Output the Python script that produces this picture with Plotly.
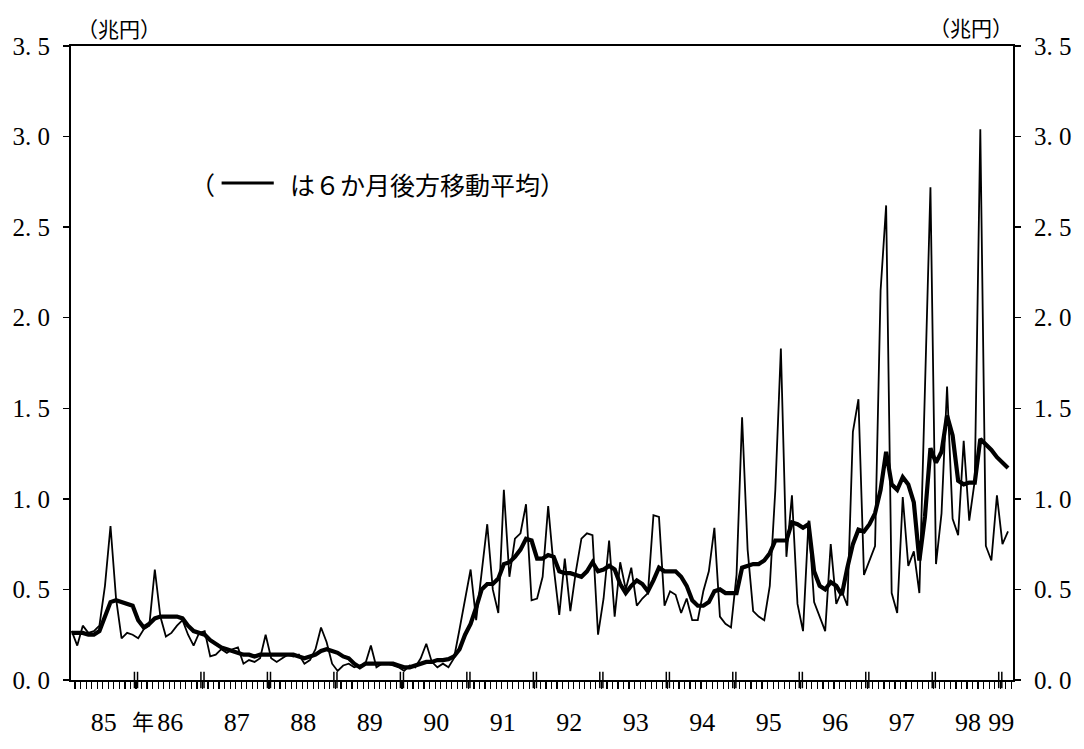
import plotly.graph_objects as go

# monthly values, Jan 1985 .. Feb 1999 (兆円)
monthly = [
    0.27, 0.19, 0.30, 0.26, 0.27, 0.30, 0.52, 0.85, 0.45, 0.23, 0.26, 0.25,   # 85
    0.23, 0.28, 0.30, 0.61, 0.35, 0.24, 0.26, 0.30, 0.33, 0.25, 0.19, 0.26,   # 86
    0.27, 0.13, 0.14, 0.17, 0.15, 0.17, 0.18, 0.09, 0.11, 0.10, 0.12, 0.25,   # 87
    0.12, 0.10, 0.12, 0.14, 0.13, 0.14, 0.09, 0.11, 0.17, 0.29, 0.21, 0.09,   # 88
    0.05, 0.08, 0.09, 0.07, 0.08, 0.09, 0.19, 0.07, 0.09, 0.09, 0.08, 0.07,   # 89
    0.05, 0.08, 0.07, 0.12, 0.20, 0.10, 0.07, 0.09, 0.07, 0.12, 0.28, 0.45,   # 90
    0.61, 0.33, 0.60, 0.86, 0.50, 0.37, 1.05, 0.57, 0.78, 0.81, 0.97, 0.44,   # 91
    0.45, 0.57, 0.96, 0.62, 0.36, 0.67, 0.38, 0.60, 0.78, 0.81, 0.80, 0.25,   # 92
    0.45, 0.77, 0.35, 0.65, 0.50, 0.62, 0.41, 0.45, 0.48, 0.91, 0.90, 0.41,   # 93
    0.49, 0.47, 0.37, 0.45, 0.33, 0.33, 0.49, 0.60, 0.84, 0.35, 0.31, 0.29,   # 94
    0.58, 1.45, 0.72, 0.38, 0.35, 0.33, 0.52, 1.05, 1.83, 0.68, 1.02, 0.42,   # 95
    0.27, 0.88, 0.43, 0.35, 0.27, 0.75, 0.42, 0.49, 0.41, 1.37, 1.55, 0.58,   # 96
    0.66, 0.74, 2.15, 2.62, 0.48, 0.37, 1.01, 0.63, 0.71, 0.48, 1.60, 2.72,   # 97
    0.64, 0.92, 1.62, 0.89, 0.80, 1.32, 0.88, 1.10, 3.04, 0.74, 0.66, 1.02,   # 98
    0.75, 0.82,                                                               # 99
]

moving_avg = [
    0.26, 0.26, 0.26, 0.25, 0.25, 0.27, 0.35, 0.43, 0.44, 0.43, 0.42, 0.41,
    0.33, 0.29, 0.31, 0.34, 0.35, 0.35, 0.35, 0.35, 0.34, 0.30, 0.27, 0.26,
    0.25, 0.22, 0.20, 0.18, 0.17, 0.16, 0.15, 0.14, 0.14, 0.13, 0.14, 0.14,
    0.14, 0.14, 0.14, 0.14, 0.14, 0.13, 0.12, 0.13, 0.14, 0.16, 0.17, 0.16,
    0.15, 0.13, 0.12, 0.09, 0.07, 0.09, 0.09, 0.09, 0.09, 0.09, 0.09, 0.08,
    0.07, 0.07, 0.08, 0.085, 0.10, 0.10, 0.11, 0.11, 0.115, 0.13, 0.17, 0.25,
    0.31, 0.40, 0.50, 0.53, 0.53, 0.56, 0.64, 0.65, 0.68, 0.72, 0.78, 0.77,
    0.67, 0.67, 0.69, 0.68, 0.60, 0.59, 0.59, 0.58, 0.57, 0.60, 0.65, 0.60,
    0.61, 0.63, 0.61, 0.53, 0.48, 0.52, 0.55, 0.53, 0.49, 0.55, 0.62, 0.60,
    0.60, 0.60, 0.57, 0.52, 0.44, 0.41, 0.41, 0.43, 0.49, 0.50, 0.48, 0.48,
    0.48, 0.62, 0.63, 0.64, 0.64, 0.66, 0.70, 0.77, 0.77, 0.77, 0.87, 0.86,
    0.84, 0.86, 0.60, 0.52, 0.50, 0.54, 0.52, 0.47, 0.62, 0.75, 0.83, 0.82,
    0.86, 0.92, 1.05, 1.26, 1.08, 1.05, 1.12, 1.08, 0.98, 0.66, 0.90, 1.28,
    1.20, 1.26, 1.46, 1.35, 1.10, 1.08, 1.09, 1.09, 1.33, 1.30, 1.27, 1.23,
    1.20, 1.17,
]

year_labels = ["85", "86", "87", "88", "89", "90", "91", "92", "93", "94",
               "95", "96", "97", "98", "99"]
y_ticks = [0.0, 0.5, 1.0, 1.5, 2.0, 2.5, 3.0, 3.5]
y_tick_text = ["0.\u00a00", "0.\u00a05", "1.\u00a00", "1.\u00a05",
               "2.\u00a00", "2.\u00a05", "3.\u00a00", "3.\u00a05"]
unit_label = "（兆円）"
note_before = "（"
note_after = "は６か月後方移動平均）"

n = len(monthly)
x = list(range(n))
year_bounds = [12 * k - 0.4 for k in range(1, len(year_labels))]
label_pos = [12 * k + 5.8 for k in range(len(year_labels) - 1)] + [167.8]

NUM_FONT = "Liberation Serif"
JP_FONT = "Noto Sans CJK JP"

fig = go.Figure()
fig.add_trace(go.Scatter(x=x, y=monthly, mode="lines",
                         line=dict(color="black", width=1.8),
                         hoverinfo="skip", showlegend=False))
fig.add_trace(go.Scatter(x=x, y=moving_avg, mode="lines",
                         line=dict(color="black", width=4.2),
                         hoverinfo="skip", showlegend=False))
# placeholder trace so the right axis / overlay x axis render
fig.add_trace(go.Scatter(x=[None], y=[None], yaxis="y2", xaxis="x2",
                         showlegend=False, hoverinfo="skip"))

xr = [-0.13, 169.9]

fig.update_layout(
    width=1084, height=749,
    margin=dict(l=66, r=61, t=46, b=50),
    paper_bgcolor="white", plot_bgcolor="white",
    xaxis=dict(range=xr, showgrid=False, zeroline=False,
               showline=True, linecolor="black", linewidth=2, mirror=True,
               tickmode="linear", tick0=-0.4, dtick=1,
               ticks="outside", ticklen=7, tickwidth=1.2, tickcolor="black",
               showticklabels=False),
    xaxis2=dict(range=xr, overlaying="x", side="bottom", anchor="y",
                showgrid=False, zeroline=False, showline=False,
                tickmode="array", tickvals=label_pos, ticktext=year_labels,
                ticks="", ticklabelstandoff=24,
                tickfont=dict(family=NUM_FONT, size=26, color="black")),
    yaxis=dict(range=[0, 3.5], showgrid=False, zeroline=False,
               showline=True, linecolor="black", linewidth=2,
               tickmode="array", tickvals=y_ticks, ticktext=y_tick_text,
               ticks="outside", ticklen=6, tickwidth=1.5, tickcolor="black",
               ticklabelstandoff=8,
               tickfont=dict(family=NUM_FONT, size=25, color="black")),
    yaxis2=dict(range=[0, 3.5], overlaying="y", side="right", anchor="x",
                showgrid=False, zeroline=False,
                showline=True, linecolor="black", linewidth=2,
                tickmode="array", tickvals=y_ticks, ticktext=y_tick_text,
                ticks="outside", ticklen=6, tickwidth=1.5, tickcolor="black",
                ticklabelstandoff=8,
                tickfont=dict(family=NUM_FONT, size=25, color="black")),
)

# double tick marks at year boundaries
shapes = []
for b in year_bounds:
    for off in (-0.28, 0.28):
        shapes.append(dict(type="line", xref="x", yref="paper",
                           x0=b + off, x1=b + off, y0=-0.013, y1=0.013,
                           line=dict(color="black", width=1.5)))
# legend sample line inside the note
shapes.append(dict(type="line", xref="paper", yref="paper",
                   x0=(219 - 66) / 957, x1=(272 - 66) / 957,
                   y0=(699 - 187) / 653, y1=(699 - 187) / 653,
                   line=dict(color="black", width=3)))
fig.update_layout(shapes=shapes)

ann = [
    dict(text=unit_label, xref="paper", yref="paper",
         x=(115 - 66) / 957, y=(699 - 27) / 653, xanchor="center", yanchor="middle",
         showarrow=False, font=dict(family=JP_FONT, size=21, color="black")),
    dict(text=unit_label, xref="paper", yref="paper",
         x=(980 - 66) / 957, y=(699 - 26) / 653, xanchor="center", yanchor="middle",
         showarrow=False, font=dict(family=JP_FONT, size=21, color="black")),
    dict(text=note_before, xref="paper", yref="paper",
         x=(214 - 66) / 957, y=(699 - 188) / 653, xanchor="right", yanchor="middle",
         showarrow=False, font=dict(family=JP_FONT, size=25, color="black")),
    dict(text=note_after, xref="paper", yref="paper",
         x=(286 - 66) / 957, y=(699 - 188) / 653, xanchor="left", yanchor="middle",
         showarrow=False, font=dict(family=JP_FONT, size=25, color="black")),
    dict(text="年", xref="x", yref="paper",
         x=12.85, y=0.0, yshift=-40, xanchor="center", yanchor="middle",
         showarrow=False, font=dict(family=JP_FONT, size=22, color="black")),
]
fig.update_layout(annotations=ann)

fig.write_html("out.html",
               config={"displayModeBar": False, "staticPlot": True},
               post_script="document.body.style.margin='0';"
                           "document.body.style.overflow='hidden';")
